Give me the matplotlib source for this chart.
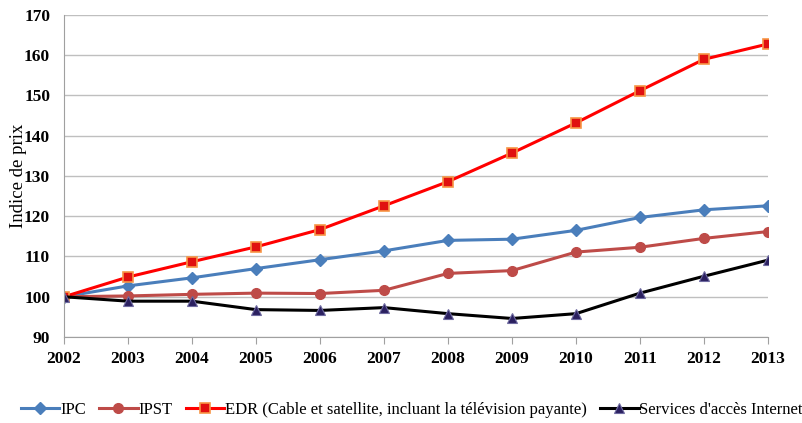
import numpy as np
import matplotlib.pyplot as plt

plt.rcParams['font.family'] = ['Liberation Serif', 'DejaVu Serif']
plt.rcParams['font.size'] = 12

# données
annees = [2002, 2003, 2004, 2005, 2006, 2007, 2008, 2009, 2010, 2011, 2012, 2013]
ipc = [100, 102.7, 104.7, 107.0, 109.2, 111.4, 114.0, 114.3, 116.5, 119.7, 121.6, 122.6]
ipst = [100, 100.2, 100.6, 100.9, 100.8, 101.6, 105.8, 106.5, 111.1, 112.3, 114.5, 116.2]
edr = [100, 104.9, 108.7, 112.4, 116.7, 122.6, 128.6, 135.7, 143.2, 151.2, 159.0, 162.8]
internet = [100, 98.9, 98.9, 96.8, 96.6, 97.3, 95.8, 94.6, 95.8, 100.9, 105.1, 109.1]

fig = plt.figure(figsize=(8.03, 4.23), dpi=100)
ax = fig.add_axes([64 / 803, 1 - 337 / 423, (768 - 64) / 803, (337 - 15) / 423])

ax.plot(annees, ipc, color='#4A7EBB', lw=2.2, marker='D', ms=6.5,
        mfc='#4A7EBB', mec='#4A7EBB', label='IPC')
ax.plot(annees, ipst, color='#BE4B48', lw=2.2, marker='o', ms=7,
        mfc='#BE4B48', mec='#BE4B48', label='IPST')
ax.plot(annees, edr, color='#FF0000', lw=2.2, marker='s', ms=6.5,
        mfc='#E01010', mec='#F79646', mew=1.2,
        label='EDR (Cable et satellite, incluant la télévision payante)')
ax.plot(annees, internet, color='#000000', lw=2.2, marker='^', ms=6.5,
        mfc='#2B2060', mec='#6E6AA0', mew=0.8, label="Services d'accès Internet")

ax.set_xlim(2002, 2013)
ax.set_ylim(90, 170)
ax.set_xticks(annees)
ax.set_yticks(np.arange(90, 171, 10))
ax.grid(axis='y', color='#BFBFBF', lw=1)
ax.set_axisbelow(True)

for s in ['top', 'right']:
    ax.spines[s].set_visible(False)
ax.spines['left'].set_color('#A0A0A0')
ax.spines['bottom'].set_color('#A0A0A0')
ax.tick_params(axis='y', length=0, pad=10, labelsize=12.5)
ax.tick_params(axis='x', direction='out', length=5, color='#A0A0A0', pad=5,
               labelsize=12.5)
for lab in ax.get_xticklabels() + ax.get_yticklabels():
    lab.set_fontweight('bold')

fig.text(19 / 803, 1 - 176 / 423, 'Indice de prix', rotation=90,
         ha='center', va='center', fontsize=13.5)

fig.legend(loc='center', bbox_to_anchor=(0.513, 1 - 410 / 423), ncol=4,
           frameon=False, fontsize=12, handlelength=2.3, handletextpad=0.05,
           columnspacing=0.8)

plt.savefig('out.png', dpi=100)
